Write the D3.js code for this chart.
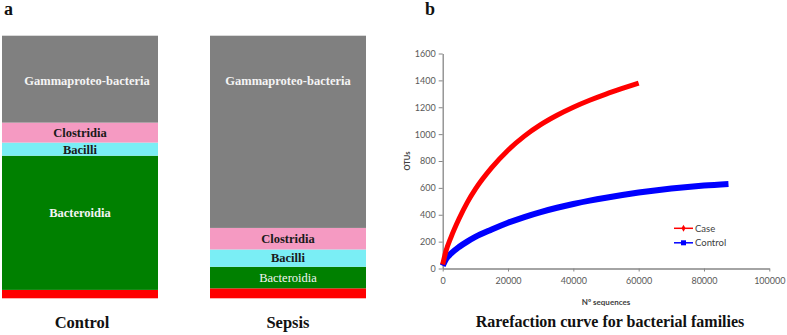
<!DOCTYPE html>
<html><head><meta charset="utf-8">
<script src="https://cdn.jsdelivr.net/npm/d3@7"></script>
<style>body{margin:0;background:#fff}svg{display:block}</style>
</head><body>
<svg id="c" width="787" height="335"></svg>
<script>
// ---- data ----
const groups = ["Control", "Sepsis"];
const classes = ["Other", "Bacteroidia", "Bacilli", "Clostridia", "Gammaproteo-bacteria"]; // bottom -> top
const controlPct = [3.2, 51.1, 5.0, 7.6, 33.1];
const sepsisPct  = [3.8, 8.2, 6.6, 8.2, 73.2];
const classColors = ["#ff0000", "#008000", "#7aeef5", "#f59ac2", "#808080"];

const caseX = [0, 1000, 2500, 5000, 7500, 10000, 15000, 20000, 25000, 30000, 35000, 40000, 45000, 50000, 55000, 60000];
const caseY = [30, 130, 230, 370, 490, 590, 750, 880, 985, 1070, 1140, 1200, 1252, 1298, 1340, 1380];
const ctrlX = [0, 1000, 2500, 5000, 7500, 10000, 15000, 20000, 25000, 30000, 35000, 40000, 45000, 50000, 55000, 60000, 65000, 70000, 75000, 80000, 87500];
const ctrlY = [20, 70, 110, 160, 200, 235, 290, 340, 383, 420, 452, 480, 505, 527, 547, 565, 581, 595, 607, 617, 629];
const xTicks = [0, 20000, 40000, 60000, 80000, 100000];
const yTicks = [0, 200, 400, 600, 800, 1000, 1200, 1400, 1600];
const seriesNames = ["Case", "Control"];
const seriesColors = ["#ff0000", "#0000ff"];

const svg = d3.select("#c");
const serif = "'Liberation Serif','Times New Roman',serif";
const sans = "Lato,'Liberation Sans',sans-serif";

// ---- panel a ----
const xb = d3.scaleBand().domain(groups).range([2, 366]).paddingInner(0.25).paddingOuter(0);
const yb = d3.scaleLinear().domain([0, 100]).range([298.3, 35.7]);
const pct = {Control: controlPct, Sepsis: sepsisPct};

groups.forEach(g => {
  let cum = 0;
  const segs = pct[g].map((v, i) => { const s = {g, i, y0: cum, y1: cum + v}; cum += v; return s; });
  const gg = svg.append("g");
  gg.selectAll("rect").data(segs).join("rect")
    .attr("x", xb(g)).attr("width", xb.bandwidth())
    .attr("y", d => yb(d.y1)).attr("height", d => yb(d.y0) - yb(d.y1))
    .attr("fill", d => classColors[d.i]);
  gg.selectAll("text").data(segs.filter(d => d.i > 0)).join("text")
    .attr("x", d => xb(g) + xb.bandwidth() / 2 + (g === "Control" && d.i === 4 ? 7 : 0))
    .attr("y", d => d.i === 4 ? yb(d.y1) + 45 : (yb(d.y0) + yb(d.y1)) / 2 - (g === "Control" && d.i === 1 ? 10 : 0))
    .attr("dy", "0.35em")
    .attr("text-anchor", "middle")
    .attr("font-family", serif)
    .attr("font-size", 12.5)
    .attr("font-weight", d => (g === "Sepsis" && d.i === 1) ? "normal" : "bold")
    .attr("fill", d => (d.i === 1 || d.i === 4) ? "#f4f4f4" : "#1a1a1a")
    .text(d => classes[d.i]);
  svg.append("text").attr("x", xb(g) + xb.bandwidth() / 2 + (g === "Control" ? 2 : 0)).attr("y", 328)
    .attr("text-anchor", "middle").attr("font-family", serif).attr("font-weight", "bold")
    .attr("font-size", 16.5).attr("fill", "#111").text(g);
});
svg.append("text").attr("x", 4).attr("y", 15).attr("font-family", serif).attr("font-weight", "bold")
  .attr("font-size", 18).attr("fill", "#111").text("a");

// ---- panel b ----
const x = d3.scaleLinear().domain([0, 100000]).range([442.7, 769.3]);
const y = d3.scaleLinear().domain([0, 1600]).range([268.5, 53.5]);
const axisCol = "#868686", tickTxt = "#595959";

const xa = svg.append("g").attr("transform", `translate(0,${y(0)})`)
  .call(d3.axisBottom(x).tickValues(xTicks).tickSize(3).tickSizeOuter(0).tickPadding(6).tickFormat(d3.format("d")));
const ya = svg.append("g").attr("transform", `translate(${x(0)},0)`)
  .call(d3.axisLeft(y).tickValues(yTicks).tickSize(4).tickSizeOuter(0).tickPadding(3).tickFormat(d3.format("d")));
[xa, ya].forEach(a => {
  a.select(".domain").attr("stroke", axisCol).attr("stroke-width", 1.3);
  a.selectAll(".tick line").attr("stroke", axisCol);
  a.selectAll(".tick text").attr("fill", tickTxt).attr("font-family", sans).attr("font-size", 9);
});

const line = d3.line().x(d => x(d[0])).y(d => y(d[1])).curve(d3.curveMonotoneX);
const series = [d3.zip(caseX, caseY), d3.zip(ctrlX, ctrlY)];
// draw control first then case on top
[1, 0].forEach(i => {
  svg.append("path").datum(series[i]).attr("d", line).attr("fill", "none")
    .attr("stroke", seriesColors[i]).attr("stroke-width", i === 0 ? 5 : 6).attr("stroke-linecap", "butt");
});

// legend
seriesNames.forEach((n, i) => {
  const ly = 228.3 + i * 14.5;
  const lg = svg.append("g");
  lg.append("line").attr("x1", 674).attr("x2", 693).attr("y1", ly).attr("y2", ly)
    .attr("stroke", seriesColors[i]).attr("stroke-width", 1.5);
  if (i === 0) lg.append("path").attr("d", d3.symbol(d3.symbolDiamond, 14)()).attr("transform", `translate(683.5,${ly})`).attr("fill", seriesColors[i]);
  else lg.append("rect").attr("x", 681).attr("y", ly - 2.5).attr("width", 5).attr("height", 5).attr("fill", seriesColors[i]);
  lg.append("text").attr("x", 695).attr("y", ly).attr("dy", "0.35em").attr("font-family", sans)
    .attr("font-size", 9.5).attr("fill", "#404040").text(n);
});

svg.append("text").attr("transform", `translate(410,${y(800)}) rotate(-90)`).attr("text-anchor", "middle")
  .attr("font-family", sans).attr("font-size", 7.5).attr("font-weight", "bold").attr("fill", "#404040").text("OTUs");
svg.append("text").attr("x", 606).attr("y", 305).attr("text-anchor", "middle")
  .attr("font-family", sans).attr("font-size", 8).attr("font-weight", "bold").attr("fill", "#404040").text("Nº sequences");
svg.append("text").attr("x", 610).attr("y", 327).attr("text-anchor", "middle")
  .attr("font-family", serif).attr("font-size", 16).attr("font-weight", "bold").attr("fill", "#111")
  .text("Rarefaction curve for bacterial families");
svg.append("text").attr("x", 425).attr("y", 15).attr("font-family", serif).attr("font-weight", "bold")
  .attr("font-size", 18).attr("fill", "#111").text("b");
</script>
</body></html>
